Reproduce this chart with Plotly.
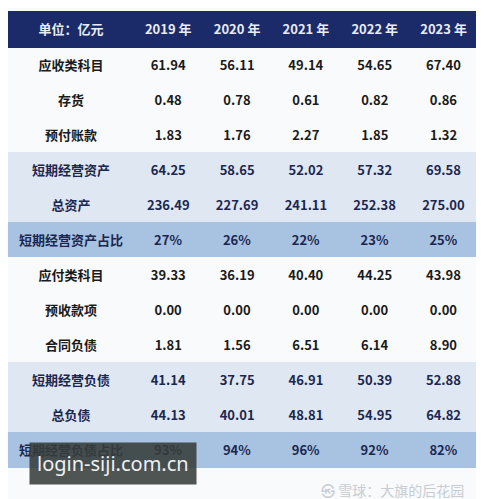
import plotly.graph_objects as go

years = ['2019 年', '2020 年', '2021 年', '2022 年', '2023 年']
labels = ['应收类科目', '存货', '预付账款', '短期经营资产', '总资产', '短期经营资产占比',
          '应付类科目', '预收款项', '合同负债', '短期经营负债', '总负债', '短期经营负债占比']
row_kind = ['w', 'w', 'w', 'b', 'b', 'r', 'w', 'w', 'w', 'b', 'b', 'r']

y2019 = [61.94, 0.48, 1.83, 64.25, 236.49, 27, 39.33, 0.00, 1.81, 41.14, 44.13, 93]
y2020 = [56.11, 0.78, 1.76, 58.65, 227.69, 26, 36.19, 0.00, 1.56, 37.75, 40.01, 94]
y2021 = [49.14, 0.61, 2.27, 52.02, 241.11, 22, 40.40, 0.00, 6.51, 46.91, 48.81, 96]
y2022 = [54.65, 0.82, 1.85, 57.32, 252.38, 23, 44.25, 0.00, 6.14, 50.39, 54.95, 92]
y2023 = [67.40, 0.86, 1.32, 69.58, 275.00, 25, 43.98, 0.00, 8.90, 52.88, 64.82, 82]

fills = {'w': '#f9fafc', 'b': '#dfe7f3', 'r': '#a8c2e2'}
fcol = {'w': '#1a1a1a', 'b': '#1c2750', 'r': '#1c2750'}


def fmt(v, k):
    s = f'{v:.0f}%' if k == 'r' else f'{v:.2f}'
    return f'<b>{s}</b>'


cols = [[f'<b>{t}</b>' for t in labels]]
for ys in [y2019, y2020, y2021, y2022, y2023]:
    cols.append([fmt(v, k) for v, k in zip(ys, row_kind)])

row_fill = [fills[k] for k in row_kind]
row_font = [fcol[k] for k in row_kind]

fig = go.Figure(go.Table(
    columnwidth=[128, 70, 70, 70, 70, 70],
    domain=dict(x=[0, 1], y=[0, 1]),
    header=dict(values=['<b>单位：亿元</b>'] + [f'<b>{y}</b>' for y in years],
                fill_color='#1b2a68', line_color='#1b2a68', height=36,
                font=dict(color='#e8ecf5', size=13, family='Noto Sans CJK SC'),
                align='center'),
    cells=dict(values=cols, fill_color=[row_fill] * 6, line_color=[row_fill] * 6,
               height=35, align='center',
               font=dict(color=[row_font] * 6, size=13, family='Noto Sans CJK SC')),
))

fig.add_annotation(text='login-siji.com.cn', xref='paper', yref='paper', x=0.045, y=0.045,
                   xanchor='left', yanchor='bottom', showarrow=False,
                   font=dict(color='#f0f0f0', size=20, family='Noto Sans'),
                   bgcolor='rgba(55,62,58,0.88)', borderpad=7)
fig.add_annotation(text='㉿ 雪球：大旗的后花园', xref='paper', yref='paper', x=0.975, y=0.01,
                   xanchor='right', yanchor='bottom', showarrow=False,
                   font=dict(color='#c8ccd2', size=14, family='Noto Sans CJK SC'))

fig.update_layout(width=484, height=499, margin=dict(l=0, r=14, t=3, b=0),
                  paper_bgcolor='#f9fafc')
fig.write_html('out.html')
